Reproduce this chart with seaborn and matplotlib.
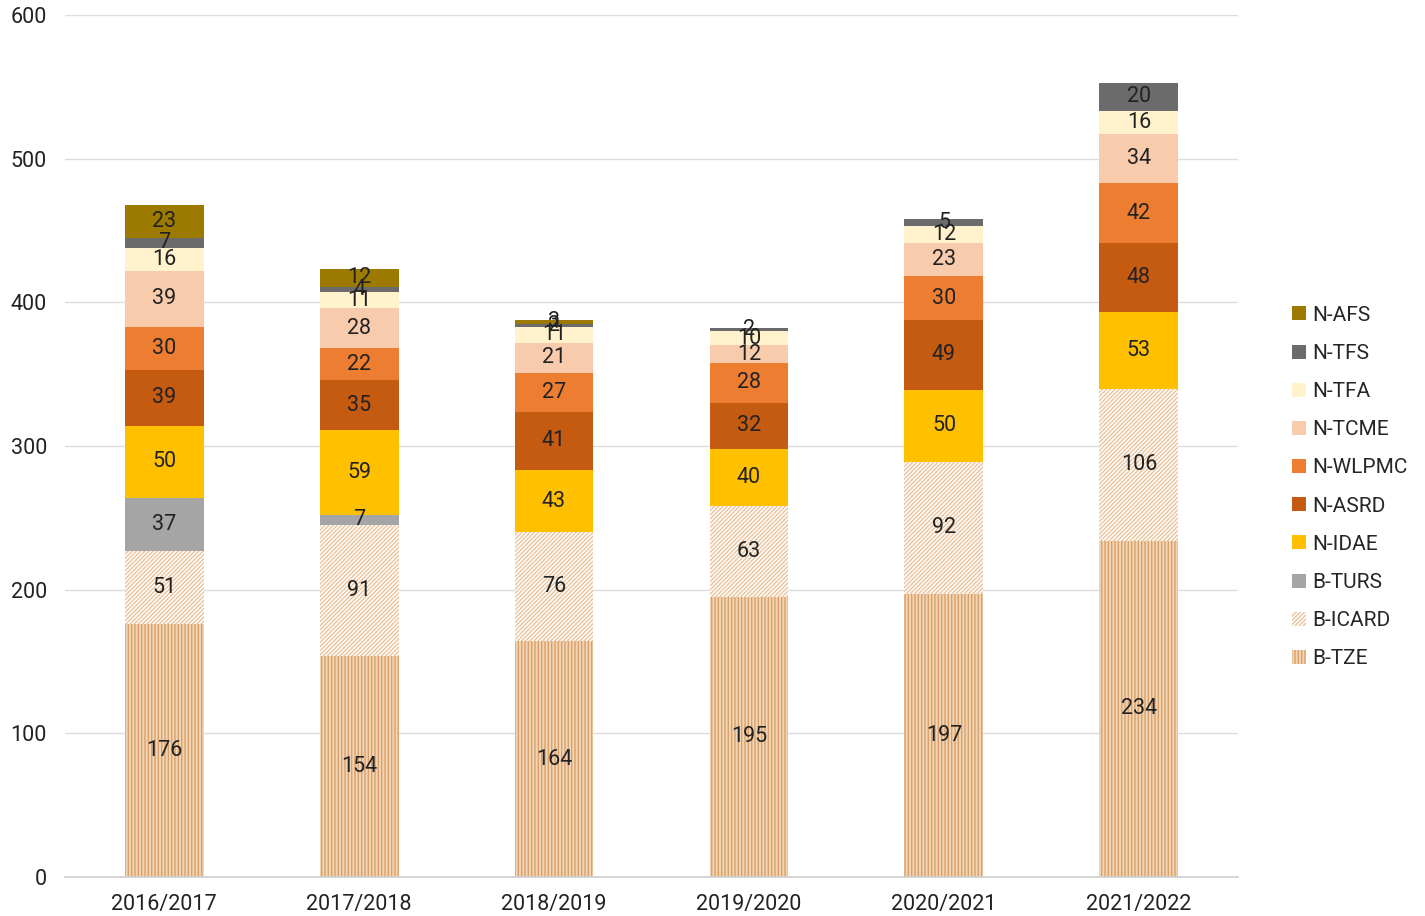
import numpy as np
import pandas as pd
import matplotlib
matplotlib.use("Agg")
import matplotlib.pyplot as plt
import seaborn as sns
from matplotlib.patches import Patch

years = ["2016/2017", "2017/2018", "2018/2019", "2019/2020", "2020/2021", "2021/2022"]

# series from bottom to top of the stack
b_tze = [176, 154, 164, 195, 197, 234]
b_icard = [51, 91, 76, 63, 92, 106]
b_turs = [37, 7, 0, 0, 0, 0]
n_idae = [50, 59, 43, 40, 50, 53]
n_asrd = [39, 35, 41, 32, 49, 48]
n_wlpmc = [30, 22, 27, 28, 30, 42]
n_tcme = [39, 28, 21, 12, 23, 34]
n_tfa = [16, 11, 11, 10, 12, 16]
n_tfs = [7, 4, 2, 2, 5, 20]
n_afs = [23, 12, 3, 0, 0, 0]

names = ["B-TZE", "B-ICARD", "B-TURS", "N-IDAE", "N-ASRD", "N-WLPMC",
         "N-TCME", "N-TFA", "N-TFS", "N-AFS"]
series = [b_tze, b_icard, b_turs, n_idae, n_asrd, n_wlpmc, n_tcme, n_tfa, n_tfs, n_afs]

styles = {
    "B-TZE": dict(facecolor="#F0D6B8", edgecolor="#DD9F66", hatch="|||||"),
    "B-ICARD": dict(facecolor="white", edgecolor="#EBC39C", hatch="////////"),
    "B-TURS": dict(facecolor="#A5A5A5", edgecolor="#A5A5A5", hatch=None),
    "N-IDAE": dict(facecolor="#FFC000", edgecolor="#FFC000", hatch=None),
    "N-ASRD": dict(facecolor="#C55A11", edgecolor="#C55A11", hatch=None),
    "N-WLPMC": dict(facecolor="#ED7D31", edgecolor="#ED7D31", hatch=None),
    "N-TCME": dict(facecolor="#F8CBAD", edgecolor="#F8CBAD", hatch=None),
    "N-TFA": dict(facecolor="#FFF2CC", edgecolor="#FFF2CC", hatch=None),
    "N-TFS": dict(facecolor="#6B6B6B", edgecolor="#6B6B6B", hatch=None),
    "N-AFS": dict(facecolor="#9C7A00", edgecolor="#9C7A00", hatch=None),
}

sns.set_theme(style="white")
plt.rcParams["font.family"] = ["Roboto", "DejaVu Sans"]
plt.rcParams["hatch.linewidth"] = 1.0

vals = np.array(series, dtype=float)
cum = vals.cumsum(axis=0)

fig = plt.figure(figsize=(14.25, 9.16), dpi=100)
ax = fig.add_axes([65 / 1425, 1 - 877 / 916, (1238 - 65) / 1425, (877 - 15) / 916])

# draw cumulative tops from the top series down so each layer covers the one above
for i in range(len(names) - 1, -1, -1):
    df = pd.DataFrame({"year": years, "top": cum[i]})
    st = styles[names[i]]
    sns.barplot(data=df, x="year", y="top", ax=ax, width=0.405,
                color=st["facecolor"], saturation=1, errorbar=None)
    for p in ax.patches[-len(years):]:
        p.set_facecolor(st["facecolor"])
        p.set_edgecolor(st["edgecolor"])
        p.set_linewidth(0)
        if st["hatch"]:
            p.set_hatch(st["hatch"])

# value labels
for i, name in enumerate(names):
    for j in range(len(years)):
        v = vals[i, j]
        if v <= 0:
            continue
        ax.text(j, cum[i, j] - v / 2, f"{int(v)}", ha="center", va="center",
                fontsize=15.5, color="#222222")

ax.set_ylim(0, 600)
ax.set_xlim(-0.508, 5.508)
ax.set_yticks(range(0, 601, 100))
ax.yaxis.grid(True, color="#DDDDDD", linewidth=1)
ax.set_axisbelow(True)
for s in ["top", "right", "left"]:
    ax.spines[s].set_visible(False)
ax.spines["bottom"].set_color("#D0D0D0")
ax.set_xlabel("")
ax.set_ylabel("")
ax.tick_params(axis="both", length=0, labelsize=15.5, colors="#222222")
ax.tick_params(axis="y", pad=13)
ax.tick_params(axis="x", pad=12)

# legend
handles = []
for name in names[::-1]:
    st = styles[name]
    handles.append(Patch(facecolor=st["facecolor"], edgecolor=st["edgecolor"] if st["hatch"] else "none",
                         hatch=st["hatch"], linewidth=0, label=name))
fig.legend(handles=handles, loc="center left", bbox_to_anchor=(1284 / 1425, 1 - 487 / 916),
           frameon=False, fontsize=15, handlelength=0.65, handleheight=0.65,
           handletextpad=0.3, labelspacing=0.92, borderaxespad=0)

fig.savefig("out.png", dpi=100, facecolor="white")
